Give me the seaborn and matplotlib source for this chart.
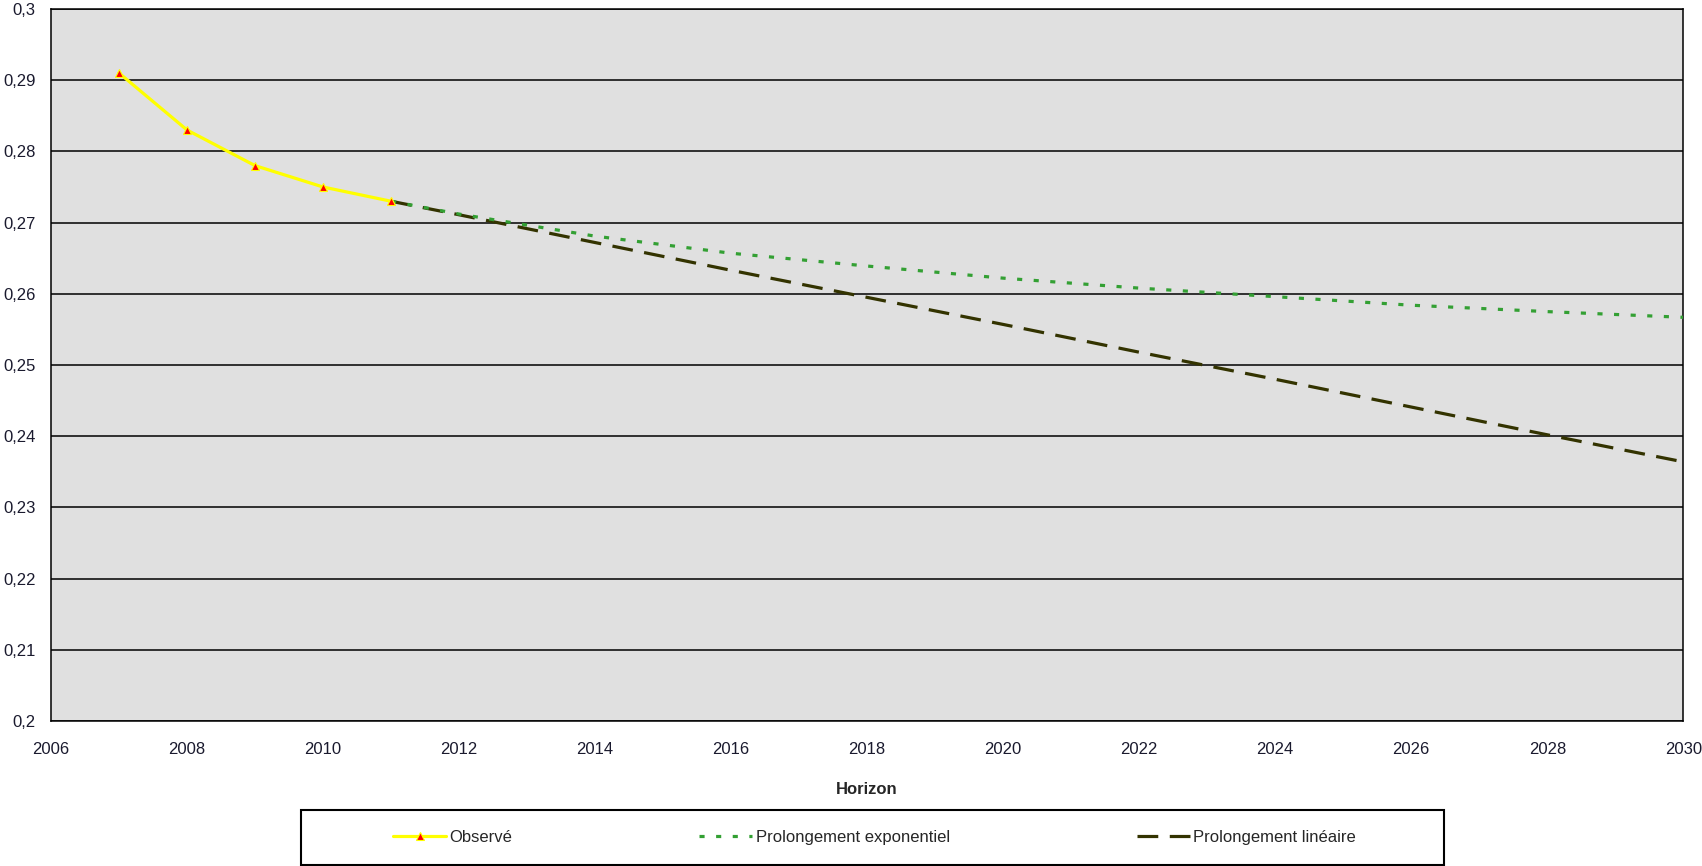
import pandas as pd
import matplotlib.pyplot as plt
import seaborn as sns
from matplotlib.patches import Rectangle
from matplotlib.ticker import FuncFormatter

# Données
annees_obs = [2007, 2008, 2009, 2010, 2011]
valeurs_obs = [0.291, 0.283, 0.278, 0.275, 0.273]

annees_proj = [2011, 2012, 2014, 2016, 2018, 2020, 2022, 2024, 2026, 2028, 2030]
valeurs_expo = [0.273, 0.2712, 0.2681, 0.2657, 0.2639, 0.2622, 0.2608, 0.2596, 0.2584, 0.2575, 0.2567]
valeurs_lin = [0.273, 0.2711, 0.2672, 0.2633, 0.2595, 0.2557, 0.2518, 0.2480, 0.2441, 0.2402, 0.2364]

noms = ["Observé", "Prolongement exponentiel", "Prolongement linéaire"]

sns.set_theme(style="white")
plt.rcParams['font.family'] = ['Liberation Sans', 'DejaVu Sans']
plt.rcParams['font.size'] = 12

df_obs = pd.DataFrame({'Annee': annees_obs, 'Valeur': valeurs_obs})
df_proj = pd.DataFrame({'Annee': annees_proj, 'Expo': valeurs_expo, 'Lin': valeurs_lin})

fig = plt.figure(figsize=(17.02, 8.66), dpi=100)
ax = fig.add_axes([0.030, 0.1674, 0.959, 0.8222])
ax.set_facecolor('#e0e0e0')

sns.lineplot(data=df_proj, x='Annee', y='Lin', ax=ax, color='#333300', linewidth=2.3,
             linestyle=(0, (6.5, 3.6)), label=noms[2], zorder=3)
sns.lineplot(data=df_proj, x='Annee', y='Expo', ax=ax, color='#33a033', linewidth=2.3,
             linestyle=(0, (1.6, 3.6)), label=noms[1], zorder=3)
sns.lineplot(data=df_obs, x='Annee', y='Valeur', ax=ax, color='#ffff00', linewidth=2.3,
             marker='^', markersize=6, markerfacecolor='#ff0000', markeredgecolor='#ffff00',
             markeredgewidth=0.8, label=noms[0], zorder=4)

ax.set_xlim(2006, 2030)
ax.set_ylim(0.2, 0.3)
ax.set_xticks(range(2006, 2031, 2))
ax.set_yticks([0.2 + 0.01 * i for i in range(11)])
ax.yaxis.set_major_formatter(FuncFormatter(lambda v, p: f"{v:.2f}".rstrip('0').replace('.', ',')))
ax.yaxis.grid(True, color='black', linewidth=1.1)
ax.xaxis.grid(False)
ax.set_axisbelow(True)
for s in ax.spines.values():
    s.set_color('black')
    s.set_linewidth(1.1)
ax.tick_params(axis='both', direction='out', length=5, width=1, color='black',
               labelsize=12, labelcolor='#1a1a2e', pad=6)
ax.tick_params(axis='x', pad=10)
ax.set_ylabel('')
ax.set_xlabel('Horizon', fontsize=12, fontweight='bold', labelpad=18)

# Légende encadrée sous le graphique
handles, labels = ax.get_legend_handles_labels()
ordre = [labels.index(n) for n in noms]
ax.get_legend().remove()
fig.patches.append(Rectangle((0.1769, 0.0012), 0.6716, 0.0635, transform=fig.transFigure,
                             fill=False, edgecolor='black', linewidth=1.5))
fig.legend([handles[i] for i in ordre], [labels[i] for i in ordre], ncol=3,
           loc='center', bbox_to_anchor=(0.2309, 0.0329, 0.5658, 0.0), mode='expand',
           frameon=False, handlelength=3.2, handletextpad=0.2, borderaxespad=0,
           borderpad=0, fontsize=12)

fig.savefig('out.png', dpi=100)
